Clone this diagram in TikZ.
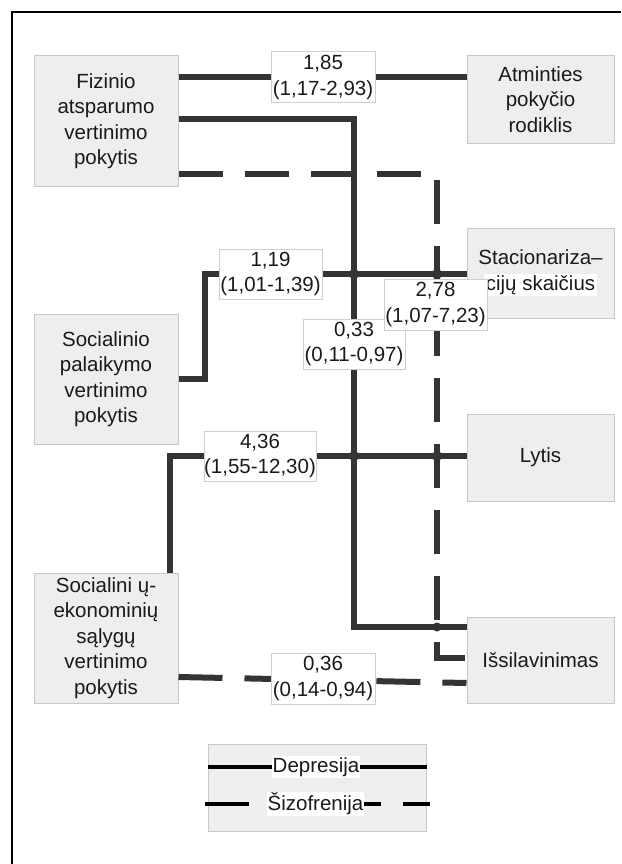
\documentclass[tikz,border=0pt]{standalone}
\usepackage{fontspec}
\setmainfont{Liberation Sans}
\definecolor{boxfill}{HTML}{EEEEEE}
\definecolor{boxline}{HTML}{C8C8C8}
\definecolor{labline}{HTML}{CFCFCF}
\definecolor{conn}{HTML}{343434}
\definecolor{txt}{HTML}{1A1A1A}
\begin{document}
\begin{tikzpicture}[x=1pt,y=-1pt,
  txtfont/.style={font=\fontsize{20.5}{25.5}\selectfont, text=txt},
  box/.style={txtfont, draw=boxline, fill=boxfill, line width=1pt, inner sep=0pt, align=center},
  lab/.style={txtfont, draw=labline, fill=white, line width=1pt, inner sep=0pt, align=center},
  dep/.style={draw=conn, line width=5.5pt},
  szf/.style={draw=conn, line width=6pt, dash pattern=on 44pt off 22pt},
  legtxt/.style={txtfont, fill=white, inner sep=1pt},
  jdot/.style={fill=conn}
]
\useasboundingbox (0,0) rectangle (621,864);
\fill[white] (0,0) rectangle (621,864);
% page border (top and left)
\coordinate (tl) at (12,12);
\coordinate (tr) at (621,12);
\coordinate (bl) at (12,864);
\draw[line width=1.5pt, black] (bl) -- (tl) -- (tr);

% boxes
\node[box, minimum width=144pt, minimum height=130pt] (fiz) at (106,121) {Fizinio\\atsparumo\\vertinimo\\pokytis};
\node[box, minimum width=147pt, minimum height=87pt] (atm) at (540.5,99.5) {Atminties\\pokyčio\\rodiklis};
\node[box, minimum width=147pt, minimum height=90pt] (stac) at (540.5,273) {Stacionariza–\\{\setlength{\fboxsep}{1.5pt}\colorbox{white}{cijų skaičius}}};
\node[box, minimum width=144pt, minimum height=130pt] (socpal) at (106,379) {Socialinio\\palaikymo\\vertinimo\\pokytis};
\node[box, minimum width=147pt, minimum height=87pt] (lytis) at (540.5,457.5) {Lytis};
\node[box, minimum width=144pt, minimum height=130pt] (soce) at (106,638) {Socialini ų-\\ekonominių\\sąlygų\\vertinimo\\pokytis};
\node[box, minimum width=147pt, minimum height=86pt] (issil) at (540.5,660) {Išsilavinimas};

% corner coordinates
\coordinate (a1) at (0,77);
\coordinate (c1) at (354,119);
\coordinate (c2) at (354,627);
\coordinate (c3) at (205,379);
\coordinate (c4) at (205,274);
\coordinate (c5) at (170,456);
\coordinate (d1) at (437,174);
\coordinate (d2) at (437,658);
\coordinate (e1) at (0,677);
\coordinate (e2) at (0,683);

% depresija (solid)
\draw[dep] (fiz.east |- a1) -- (atm.west |- a1);
\draw[dep] (fiz.east |- c1) -- (c1) -- (c2) -- (issil.west |- c2);
\draw[dep] (socpal.east |- c3) -- (c3) -- (c4) -- (stac.west |- c4);
\draw[dep] (soce.north -| c5) -- (c5) -- (lytis.west |- c5);
% sizofrenija (dashed)
\draw[szf] (fiz.east |- d1) -- (d1) -- (d2) -- (issil.west |- d2);
\draw[szf] (soce.east |- e1) -- (issil.west |- e2);

% junction dots
\fill[jdot] (c1 |- c4) circle (5pt);
\fill[jdot] (d1 |- c4) circle (5pt);
\fill[jdot] (c1 |- c5) circle (5pt);
\fill[jdot] (d1 |- c5) circle (5pt);
\fill[jdot] (d1 |- c2) circle (4.5pt);

% labels
\node[lab, minimum width=104pt, minimum height=51pt] (l185) at (323,77.5) {1,85\\(1,17-2,93)};
\node[lab, minimum width=103pt, minimum height=50pt] (l119) at (270.5,274) {1,19\\(1,01-1,39)};
\node[lab, minimum width=102pt, minimum height=50pt] (l033) at (354,344) {0,33\\(0,11-0,97)};
\node[lab, minimum width=103pt, minimum height=51pt] (l278) at (435.5,304.5) {2,78\\(1,07-7,23)};
\node[lab, minimum width=112pt, minimum height=50pt] (l436) at (260,456) {4,36\\(1,55-12,30)};
\node[lab, minimum width=104pt, minimum height=51pt] (l036) at (323,678.5) {0,36\\(0,14-0,94)};

% legend
\node[box, minimum width=218pt, minimum height=87pt] (leg) at (317,787.5) {};
\coordinate (g1) at (0,767);
\coordinate (g2) at (205,804);
\coordinate (g3) at (430,804);
\draw[line width=4.5pt, black] (leg.west |- g1) -- (leg.east |- g1);
\draw[line width=4.5pt, black, dash pattern=on 44pt off 22pt] (g2) -- (g3);
\node[legtxt] (ldep) at (316,767) {Depresija};
\node[legtxt] (lszf) at (315.5,804) {Šizofrenija};
\end{tikzpicture}
\end{document}
